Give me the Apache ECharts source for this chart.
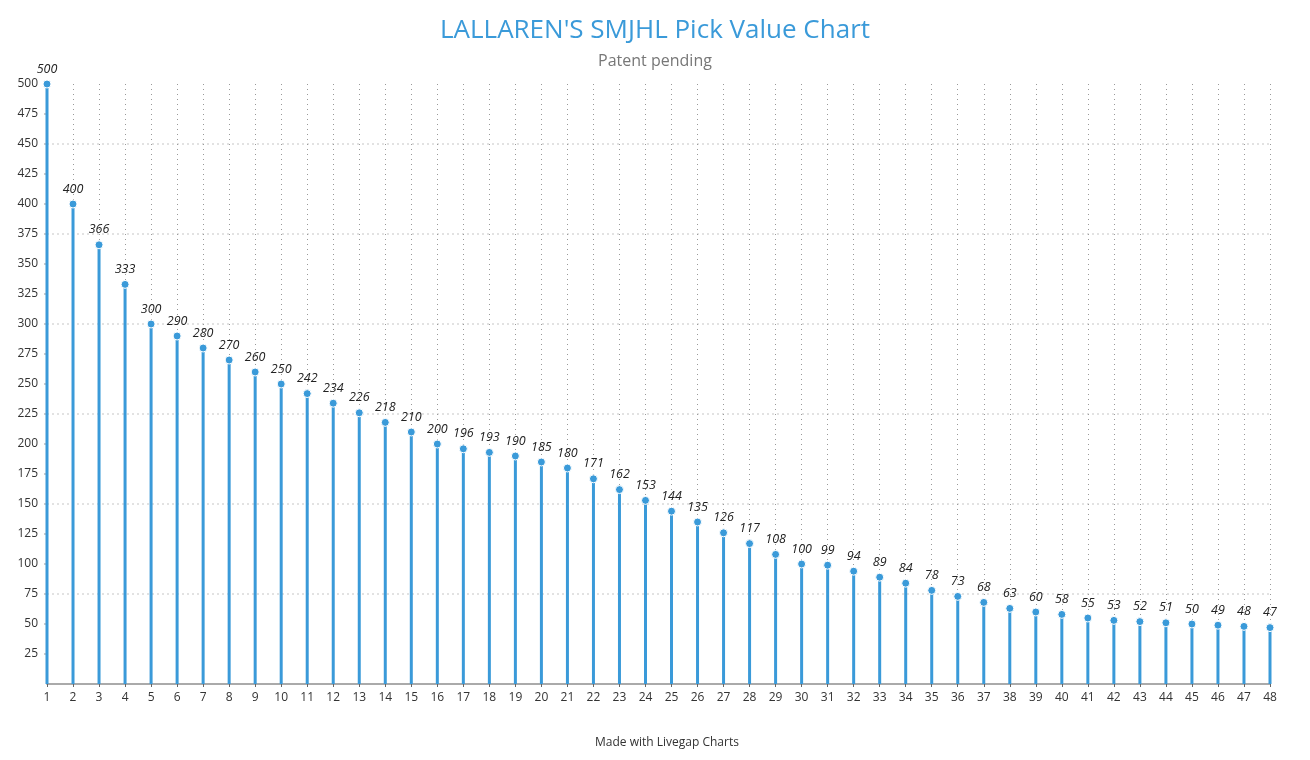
<!DOCTYPE html>
<html><head><meta charset="utf-8">
<script src="https://cdn.jsdelivr.net/npm/echarts@6/dist/echarts.min.js"></script>
<style>html,body{margin:0;padding:0;background:#fff}#c{width:1310px;height:760px}</style>
</head><body><div id="c"></div>
<script>
const picks = Array.from({length:48},(_,i)=>String(i+1));
const values = [500,400,366,333,300,290,280,270,260,250,242,234,226,218,210,200,196,193,190,185,180,171,162,153,144,135,126,117,108,100,99,94,89,84,78,73,68,63,60,58,55,53,52,51,50,49,48,47];
const titleText = "LALLAREN'S SMJHL Pick Value Chart";
const subtitleText = "Patent pending";
const footerText = "Made with Livegap Charts";
const blue = '#3a9ad9';
const font = '"Open Sans", sans-serif';
const chart = echarts.init(document.getElementById('c'));
chart.setOption({
  animation:false,
  textStyle:{fontFamily:font},
  title:[
    {text:titleText, subtext:subtitleText, left:'center', top:13,
     textStyle:{fontFamily:font, fontSize:26, fontWeight:'normal', color:blue},
     subtextStyle:{fontFamily:font, fontSize:16, color:'#777'}, itemGap:9},
    {text:footerText, left:590, top:732,
     textStyle:{fontFamily:font, fontSize:12, fontWeight:'normal', color:'#333'}}
  ],
  grid:{left:47, right:40, top:84, bottom:76, containLabel:false},
  xAxis:{type:'category', data:picks, boundaryGap:false,
    axisLine:{lineStyle:{color:'#aaa', width:2}},
    axisTick:{length:3, lineStyle:{color:'#666'}},
    axisLabel:{color:'#333', fontSize:12, margin:8, fontFamily:font, interval:0},
    splitLine:{show:true, lineStyle:{color:'#999', width:1, type:[1,4]}}
  },
  yAxis:{type:'value', min:0, max:500, interval:25,
    axisLine:{show:false},
    axisTick:{show:true, length:3, lineStyle:{color:'#ccc', width:2}},
    axisLabel:{color:'#333', fontSize:12, margin:9, fontFamily:font, showMinLabel:false},
    splitLine:{show:true, lineStyle:{color:['#e2e2e2','transparent','transparent'], width:2, type:[2,3]}}
  },
  series:[
    {type:'bar', data:values, barWidth:3, itemStyle:{color:blue}, z:2},
    {type:'scatter', data:values, symbol:'circle', symbolSize:8,
     itemStyle:{color:blue, borderColor:'#fff', borderWidth:1, opacity:1}, z:3,
     label:{show:true, position:'top', distance:4, fontStyle:'italic', fontSize:12.5, color:'#222', fontFamily:font}}
  ]
});
</script></body></html>
